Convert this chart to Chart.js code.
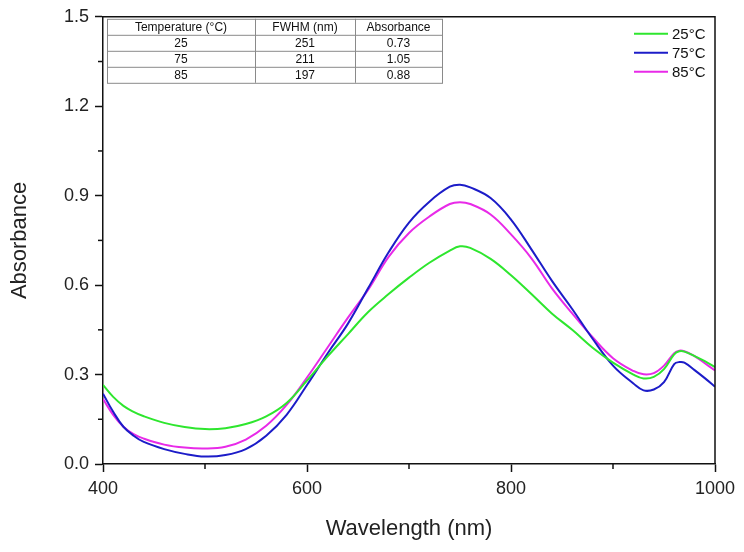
<!DOCTYPE html>
<html>
<head>
<meta charset="utf-8">
<script src="https://cdn.jsdelivr.net/npm/chart.js@4.4.1/dist/chart.umd.min.js"></script>
<style>
  html, body { margin: 0; padding: 0; background: #fff; }
  canvas { display: block; }
</style>
</head>
<body>
<canvas id="absChart" width="744" height="552"></canvas>
<script>
// wavelengths (nm) and absorbance
const wavelengths = [400, 410, 420, 430, 440, 460, 480, 500, 520, 540, 560, 580, 600, 620, 640, 660, 680, 700, 720, 740, 750, 760, 780, 800, 820, 840, 860, 880, 900, 920, 930, 940, 950, 960, 965, 970, 980, 990, 1000];
const abs25 = [0.265, 0.225, 0.195, 0.175, 0.16, 0.138, 0.124, 0.117, 0.12, 0.134, 0.16, 0.205, 0.28, 0.36, 0.435, 0.51, 0.57, 0.625, 0.675, 0.716, 0.73, 0.725, 0.688, 0.633, 0.57, 0.505, 0.45, 0.39, 0.34, 0.3, 0.287, 0.292, 0.318, 0.368, 0.378, 0.377, 0.362, 0.345, 0.325];
const abs75 = [0.236, 0.175, 0.125, 0.095, 0.074, 0.05, 0.034, 0.025, 0.03, 0.05, 0.095, 0.165, 0.265, 0.37, 0.47, 0.59, 0.71, 0.81, 0.88, 0.93, 0.937, 0.928, 0.892, 0.82, 0.72, 0.615, 0.52, 0.42, 0.33, 0.27, 0.247, 0.25, 0.275, 0.335, 0.342, 0.34, 0.315, 0.288, 0.259];
const abs85 = [0.218, 0.165, 0.125, 0.1, 0.085, 0.065, 0.055, 0.052, 0.058, 0.082, 0.128, 0.198, 0.29, 0.39, 0.49, 0.585, 0.695, 0.775, 0.83, 0.872, 0.878, 0.872, 0.837, 0.77, 0.69, 0.59, 0.505, 0.425, 0.355, 0.312, 0.301, 0.305, 0.33, 0.372, 0.38, 0.378, 0.362, 0.338, 0.314];

const seriesLabels = ['25°C', '75°C', '85°C'];
const seriesColors = ['#2ee62e', '#1c1cc8', '#e82ae8'];

// inset table
const tableHeaders = ['Temperature (°C)', 'FWHM (nm)', 'Absorbance'];
const tableRows = [
    ['25', '251', '0.73'],
    ['75', '211', '1.05'],
    ['85', '197', '0.88']
];

const FONT = '"Liberation Sans", Arial, sans-serif';

function toPoints(values) {
    return wavelengths.map((w, i) => ({ x: w, y: values[i] }));
}

// minor ticks + top/right frame
const framePlugin = {
    id: 'frame',
    afterDraw(chart) {
        const ctx = chart.ctx;
        const area = chart.chartArea;
        ctx.save();
        ctx.strokeStyle = '#111';
        ctx.lineWidth = 1.5;
        ctx.beginPath();
        ctx.moveTo(area.left, area.top);
        ctx.lineTo(area.right, area.top);
        ctx.lineTo(area.right, area.bottom);
        ctx.stroke();

        const xs = chart.scales.x;
        for (let i = 0; i < xs.ticks.length - 1; i++) {
            const v = (xs.ticks[i].value + xs.ticks[i + 1].value) / 2;
            const px = xs.getPixelForValue(v);
            ctx.beginPath();
            ctx.moveTo(px, area.bottom);
            ctx.lineTo(px, area.bottom + 5);
            ctx.stroke();
        }
        const ys = chart.scales.y;
        for (let i = 0; i < ys.ticks.length - 1; i++) {
            const v = (ys.ticks[i].value + ys.ticks[i + 1].value) / 2;
            const py = ys.getPixelForValue(v);
            ctx.beginPath();
            ctx.moveTo(area.left, py);
            ctx.lineTo(area.left - 5, py);
            ctx.stroke();
        }
        ctx.restore();
    }
};

// legend drawn inside the plot, top right
const insideLegend = {
    id: 'insideLegend',
    afterDraw(chart) {
        const ctx = chart.ctx;
        const area = chart.chartArea;
        ctx.save();
        ctx.font = '15px ' + FONT;
        ctx.textBaseline = 'middle';
        ctx.textAlign = 'left';
        chart.data.datasets.forEach((ds, i) => {
            const y = area.top + 17 + i * 19;
            const x0 = area.right - 81;
            ctx.strokeStyle = ds.borderColor;
            ctx.lineWidth = 2;
            ctx.beginPath();
            ctx.moveTo(x0, y);
            ctx.lineTo(x0 + 34, y);
            ctx.stroke();
            ctx.fillStyle = '#111';
            ctx.fillText(ds.label, x0 + 38, y + 1);
        });
        ctx.restore();
    }
};

// small table, top left
const tablePlugin = {
    id: 'insetTable',
    afterDraw(chart) {
        const ctx = chart.ctx;
        const area = chart.chartArea;
        const left = area.left + 4;
        const top = area.top + 2;
        const colW = [148, 100, 87];
        const rowH = 16;
        const rows = [tableHeaders].concat(tableRows);
        const totalW = colW.reduce((a, b) => a + b, 0);
        ctx.save();
        ctx.strokeStyle = '#8a8a8a';
        ctx.lineWidth = 1;
        ctx.strokeRect(left + 0.5, top + 0.5, totalW, rows.length * rowH);
        for (let r = 1; r < rows.length; r++) {
            ctx.beginPath();
            ctx.moveTo(left, top + r * rowH + 0.5);
            ctx.lineTo(left + totalW, top + r * rowH + 0.5);
            ctx.stroke();
        }
        let cx = left;
        for (let c = 0; c < colW.length - 1; c++) {
            cx += colW[c];
            ctx.beginPath();
            ctx.moveTo(cx + 0.5, top);
            ctx.lineTo(cx + 0.5, top + rows.length * rowH);
            ctx.stroke();
        }
        ctx.fillStyle = '#111';
        ctx.font = '12px ' + FONT;
        ctx.textAlign = 'center';
        ctx.textBaseline = 'middle';
        rows.forEach((row, r) => {
            let x = left;
            row.forEach((txt, c) => {
                ctx.fillText(txt, x + colW[c] / 2, top + r * rowH + rowH / 2 + 1);
                x += colW[c];
            });
        });
        ctx.restore();
    }
};

const ctx = document.getElementById('absChart').getContext('2d');
const chartInstance = new Chart(ctx, {
    type: 'line',
    data: {
        datasets: [abs25, abs75, abs85].map((vals, i) => ({
            label: seriesLabels[i],
            data: toPoints(vals),
            borderColor: seriesColors[i],
            borderWidth: 2,
            pointRadius: 0,
            fill: false,
            tension: 0.4
        }))
    },
    options: {
        responsive: false,
        animation: false,
        layout: { padding: { top: 16, right: 29, left: 0, bottom: 0 } },
        plugins: {
            legend: { display: false },
            tooltip: { enabled: false }
        },
        scales: {
            x: {
                type: 'linear',
                min: 400,
                max: 1000,
                afterFit: (s) => { s.height = 88; },
                border: { color: '#111', width: 1.5 },
                grid: { drawOnChartArea: false, tickLength: 8, tickColor: '#111', tickWidth: 1.5 },
                ticks: { stepSize: 200, color: '#222', padding: 6, font: { family: FONT, size: 18 }, callback: (v) => String(v) },
                title: { display: true, text: 'Wavelength (nm)', color: '#222', font: { family: FONT, size: 22 }, padding: { top: 4, bottom: 10 } }
            },
            y: {
                min: 0,
                max: 1.5,
                afterFit: (s) => { s.width = 103; },
                border: { color: '#111', width: 1.5 },
                grid: { drawOnChartArea: false, tickLength: 8, tickColor: '#111', tickWidth: 1.5 },
                ticks: { stepSize: 0.3, color: '#222', padding: 6, font: { family: FONT, size: 18 }, callback: (v) => Number(v).toFixed(1) },
                title: { display: true, text: 'Absorbance', color: '#222', font: { family: FONT, size: 22 }, padding: { top: 7, bottom: 4 } }
            }
        }
    },
    plugins: [framePlugin, insideLegend, tablePlugin]
});
</script>
</body>
</html>
